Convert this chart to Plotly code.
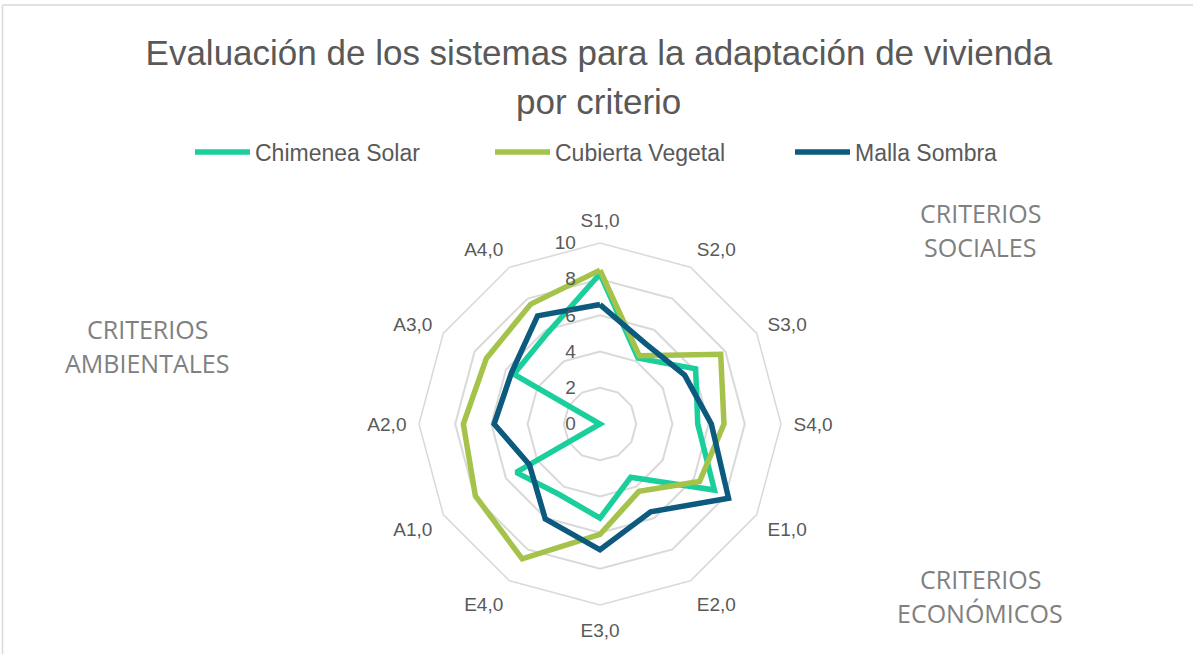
import plotly.graph_objects as go

# Criteria (clockwise from the top) and scores per system
categories = ["S1,0", "S2,0", "S3,0", "S4,0", "E1,0", "E2,0",
              "E3,0", "E4,0", "A1,0", "A2,0", "A3,0", "A4,0"]
chimenea_solar = [8.3, 4.2, 6.1, 5.4, 7.3, 3.4, 5.2, 4.5, 5.35, 0.0, 5.5, 5.8]
cubierta_vegetal = [8.5, 4.35, 7.7, 6.85, 6.35, 4.3, 6.1, 8.6, 7.95, 7.55, 7.25, 7.65]
malla_sombra = [6.6, 5.1, 5.4, 6.15, 8.2, 5.6, 6.95, 6.05, 4.5, 5.85, 5.65, 6.9]
radial_ticks = [0, 2, 4, 6, 8, 10]

series = [
    ("Chimenea Solar", chimenea_solar, "#1BCF9C"),
    ("Cubierta Vegetal", cubierta_vegetal, "#A5C34A"),
    ("Malla Sombra", malla_sombra, "#0C5B7F"),
]

W, H = 1193, 654
SANS = "Liberation Sans, Arial, sans-serif"
TEXT = "#595959"
GRID = "#D9D9D9"

fig = go.Figure()
for name, vals, color in series:
    fig.add_trace(go.Scatterpolar(
        r=vals + vals[:1],
        theta=categories + categories[:1],
        mode="lines",
        name=name,
        line=dict(color=color, width=5.5),
    ))

# polar area: centre (600, 424), radius 181 px
cx, cy, R = 600, 424, 181
fig.update_layout(
    width=W, height=H,
    margin=dict(l=0, r=0, t=0, b=0),
    paper_bgcolor="white",
    plot_bgcolor="white",
    font=dict(family=SANS, color=TEXT),
    title=dict(
        text="Evaluación de los sistemas para la adaptación de vivienda",
        x=0.502, xanchor="center",
        y=1 - 53 / H, yanchor="middle",
        font=dict(family=SANS, size=35, color=TEXT),
    ),
    legend=dict(
        orientation="h",
        x=190 / W, xanchor="left",
        y=1 - 152 / H, yanchor="middle",
        font=dict(family=SANS, size=23, color=TEXT),
        entrywidth=230, entrywidthmode="pixels",
        itemwidth=55,
        bgcolor="rgba(0,0,0,0)",
    ),
    polar=dict(
        domain=dict(x=[(cx - R) / W, (cx + R) / W],
                    y=[(H - cy - R) / H, (H - cy + R) / H]),
        bgcolor="white",
        gridshape="linear",
        angularaxis=dict(
            type="category",
            categoryarray=categories,
            direction="clockwise",
            rotation=90,
            showgrid=False,
            showline=True,
            linecolor=GRID,
            linewidth=1.5,
            ticks="outside",
            ticklen=8,
            tickcolor="rgba(0,0,0,0)",
            tickfont=dict(family=SANS, size=19, color=TEXT),
        ),
        radialaxis=dict(
            range=[0, 10],
            tickvals=radial_ticks,
            showline=False,
            gridcolor=GRID,
            gridwidth=1.5,
            angle=90,
            tickangle=90,
            side="counterclockwise",
            ticks="outside",
            ticklen=17,
            tickcolor="rgba(0,0,0,0)",
            tickfont=dict(family=SANS, size=19, color=TEXT),
        ),
    ),
)

# second title line
fig.add_annotation(
    text="por criterio", xref="paper", yref="paper",
    x=0.502, y=1 - 101 / H, xanchor="center", yanchor="middle",
    showarrow=False, font=dict(family=SANS, size=35, color=TEXT),
)

# group captions
CAPTION = dict(family="Open Sans, sans-serif", size=25, color="#808080")
for (lines, x, y) in [
    (("CRITERIOS", "SOCIALES"), 980, 213),
    (("CRITERIOS", "AMBIENTALES"), 147, 329),
    (("CRITERIOS", "ECONÓMICOS"), 980, 579),
]:
    for i, txt in enumerate(lines):
        fig.add_annotation(
            text=txt, xref="paper", yref="paper",
            x=x / W, y=1 - (y + 34 * i) / H,
            xanchor="center", yanchor="middle",
            showarrow=False, font=CAPTION,
        )

# chart frame (top and left edges)
fig.add_shape(type="line", xref="paper", yref="paper",
              x0=2.5 / W, x1=1, y0=1 - 5 / H, y1=1 - 5 / H,
              line=dict(color=GRID, width=1.5))
fig.add_shape(type="line", xref="paper", yref="paper",
              x0=2.5 / W, x1=2.5 / W, y0=0, y1=1 - 5 / H,
              line=dict(color=GRID, width=1.5))

fig.write_html("out.html")
